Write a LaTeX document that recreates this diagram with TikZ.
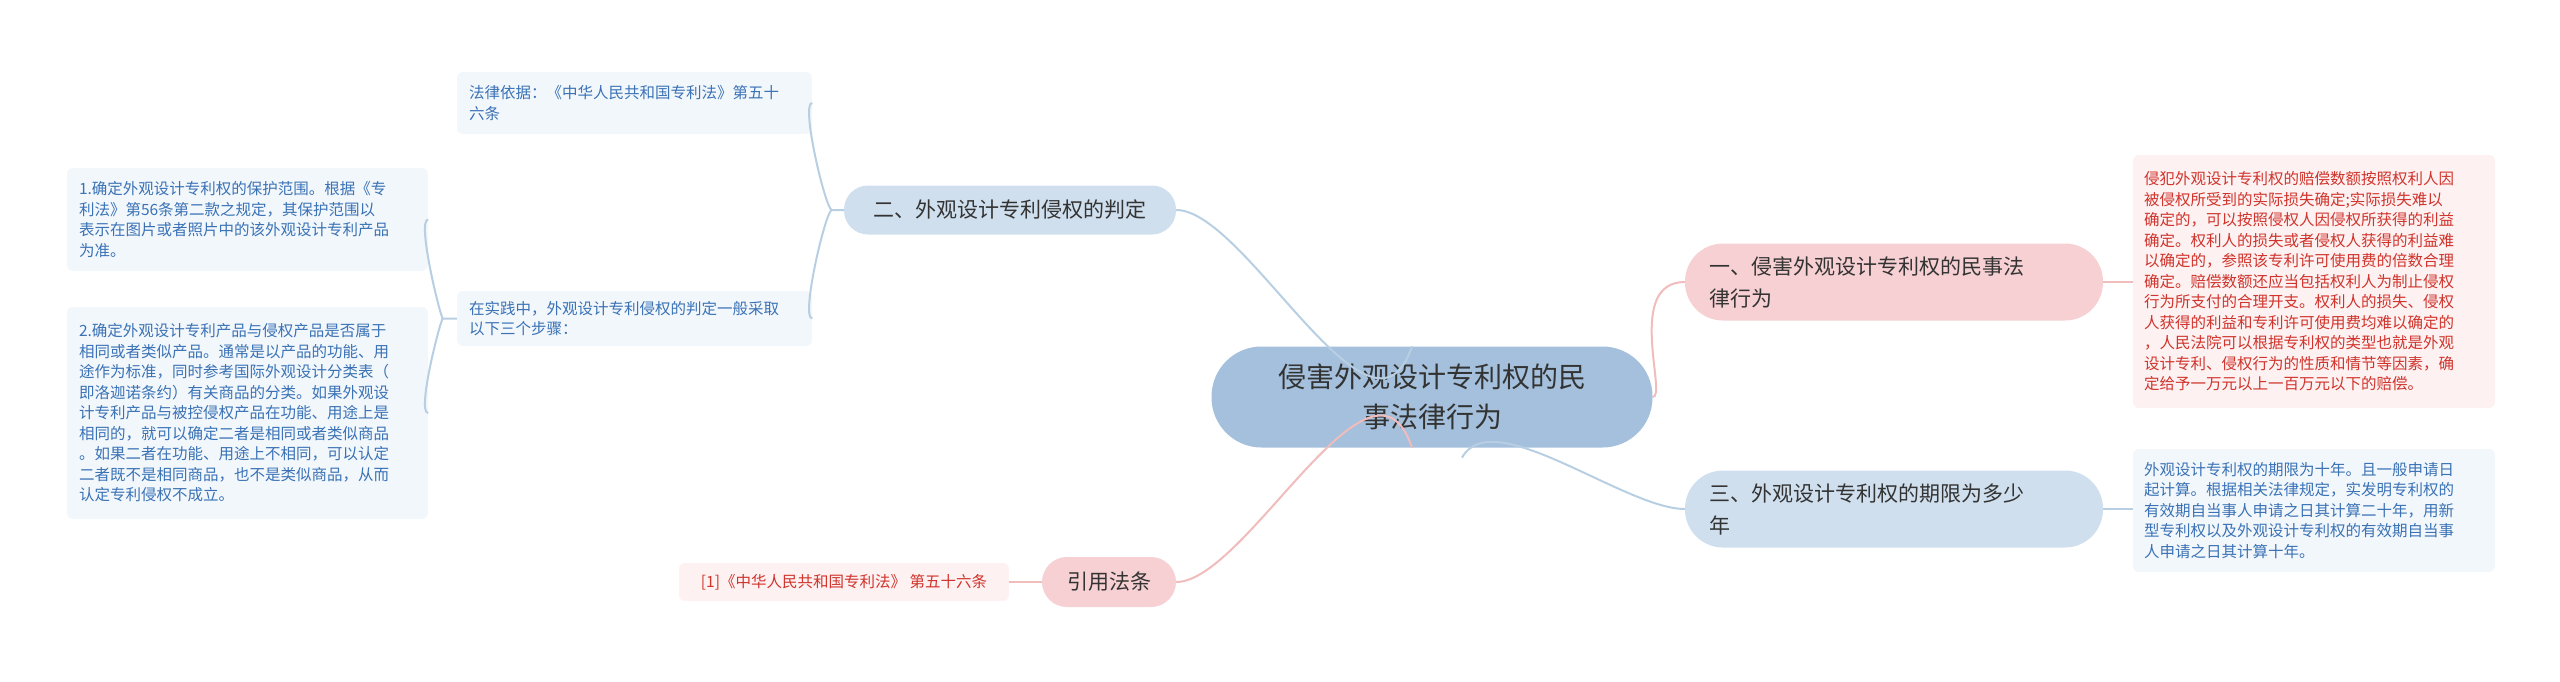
\documentclass[tikz,border=0pt]{standalone}
\usepackage{fontspec}
\setmainfont{Noto Sans CJK SC}
\definecolor{cfill}{HTML}{A4C0DC}
\definecolor{bfill}{HTML}{CFDFEE}
\definecolor{pfill}{HTML}{F6D0D2}
\definecolor{tbfill}{HTML}{F2F7FC}
\definecolor{trfill}{HTML}{FDF1F1}
\definecolor{btext}{HTML}{3A72B5}
\definecolor{rtext}{HTML}{D0342C}
\definecolor{bline}{HTML}{B8CFE3}
\definecolor{pline}{HTML}{F0BCBC}
\definecolor{dtext}{HTML}{333333}
\tikzset{
 box/.style={inner sep=0pt, align=left, font=\fontsize{15.5}{20.5}\selectfont},
 bbox/.style={box, fill=tbfill, text=btext, rounded corners=6pt},
 rbox/.style={box, fill=trfill, text=rtext, rounded corners=6pt},
 branch/.style={inner sep=0pt, align=left, text=dtext, font=\fontsize{21}{32}\selectfont, rounded corners=25pt},
 bl/.style={draw=bline, line width=2pt},
 pl/.style={draw=pline, line width=2pt},
}
\begin{document}
\begin{tikzpicture}[x=1pt,y=-1pt]
\useasboundingbox (0,0) rectangle (2560,681);
% center
\node[fill=cfill, rounded corners=50pt, minimum width=441pt, minimum height=101pt, align=center, text=dtext, font=\fontsize{28}{40}\selectfont] (c) at (1432,397) {侵害外观设计专利权的民\\事法律行为};
% left branches
\node[branch, fill=bfill, minimum width=332pt, minimum height=49pt, align=center, rounded corners=24pt] (b2) at (1010,210) {二、外观设计专利侵权的判定};
\node[branch, fill=pfill, minimum width=134pt, minimum height=50pt, align=center] (ref) at (1109,582) {引用法条};
% right branches
\node[branch, fill=pfill, minimum width=418pt, minimum height=77pt, text width=370pt, rounded corners=38pt] (b1) at (1894,282) {一、侵害外观设计专利权的民事法\\律行为};
\node[branch, fill=bfill, minimum width=418pt, minimum height=77pt, text width=370pt, rounded corners=38pt] (b3) at (1894,509) {三、外观设计专利权的期限为多少\\年};
% text boxes
\node[bbox, minimum width=355pt, minimum height=62pt, text width=331pt] (law) at (634.5,103) {法律依据：《中华人民共和国专利法》第五十\\六条};
\node[bbox, minimum width=355pt, minimum height=55pt, text width=331pt] (prac) at (634.5,318.5) {在实践中，外观设计专利侵权的判定一般采取\\以下三个步骤：};
\node[bbox, minimum width=361pt, minimum height=103pt, text width=337pt] (s1) at (247.5,219.5) {1.确定外观设计专利权的保护范围。根据《专\\利法》第56条第二款之规定，其保护范围以\\表示在图片或者照片中的该外观设计专利产品\\为准。};
\node[bbox, minimum width=361pt, minimum height=212pt, text width=337pt] (s2) at (247.5,413) {2.确定外观设计专利产品与侵权产品是否属于\\相同或者类似产品。通常是以产品的功能、用\\途作为标准，同时参考国际外观设计分类表（\\即洛迦诺条约）有关商品的分类。如果外观设\\计专利产品与被控侵权产品在功能、用途上是\\相同的，就可以确定二者是相同或者类似商品\\。如果二者在功能、用途上不相同，可以认定\\二者既不是相同商品，也不是类似商品，从而\\认定专利侵权不成立。};
\node[rbox, minimum width=330pt, minimum height=38pt, align=center] (r1) at (844,582) {[1]《中华人民共和国专利法》 第五十六条};
\node[rbox, minimum width=362pt, minimum height=253pt, text width=340pt] (red) at (2314,281.5) {侵犯外观设计专利权的赔偿数额按照权利人因\\被侵权所受到的实际损失确定;实际损失难以\\确定的，可以按照侵权人因侵权所获得的利益\\确定。权利人的损失或者侵权人获得的利益难\\以确定的，参照该专利许可使用费的倍数合理\\确定。赔偿数额还应当包括权利人为制止侵权\\行为所支付的合理开支。权利人的损失、侵权\\人获得的利益和专利许可使用费均难以确定的\\，人民法院可以根据专利权的类型也就是外观\\设计专利、侵权行为的性质和情节等因素，确\\定给予一万元以上一百万元以下的赔偿。};
\node[bbox, minimum width=362pt, minimum height=123pt, text width=340pt] (blue) at (2314,510.5) {外观设计专利权的期限为十年。且一般申请日\\起计算。根据相关法律规定，实发明专利权的\\有效期自当事人申请之日其计算二十年，用新\\型专利权以及外观设计专利权的有效期自当事\\人申请之日其计算十年。};
% connectors
\draw[bl] ([xshift=-20pt]c.north) .. controls ([xshift=-60pt,yshift=-120pt]c.north) and ([xshift=70pt]b2.east) .. (b2.east);
\draw[pl] ([xshift=-20pt]c.south) .. controls ([xshift=-60pt,yshift=120pt]c.south) and ([xshift=70pt]ref.east) .. (ref.east);
\draw[pl] (c.east) .. controls ([xshift=15pt]c.east) and ([xshift=-60pt]b1.west) .. (b1.west);
\draw[bl] ([xshift=30pt,yshift=-10pt]c.south) .. controls ([xshift=60pt,yshift=45pt]c.south) and ([xshift=-60pt]b3.west) .. (b3.west);
\draw[bl] (b2.west) -- ([xshift=-12pt]b2.west) .. controls ([xshift=-18pt]b2.west) and ([xshift=-12pt]law.east) .. (law.east);
\draw[bl] ([xshift=-12pt]b2.west) .. controls ([xshift=-18pt]b2.west) and ([xshift=-12pt]prac.east) .. (prac.east);
\draw[bl] (prac.west) -- ([xshift=-14pt]prac.west) .. controls ([xshift=-16pt]prac.west) and ([xshift=-12pt]s1.east) .. (s1.east);
\draw[bl] ([xshift=-14pt]prac.west) .. controls ([xshift=-16pt]prac.west) and ([xshift=-12pt]s2.east) .. (s2.east);
\draw[pl] (b1.east) -- (red.west |- b1.east);
\draw[bl] (b3.east) -- (blue.west |- b3.east);
\draw[pl] (ref.west) -- (r1.east);
\end{tikzpicture}
\end{document}
